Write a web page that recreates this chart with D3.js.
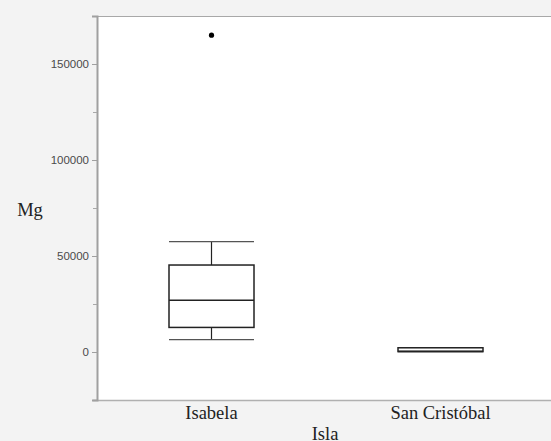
<!DOCTYPE html>
<html>
<head>
<meta charset="utf-8">
<script src="https://cdn.jsdelivr.net/npm/d3@7"></script>
<style>
  body { margin: 0; background: #f3f3f3; }
  svg { display: block; }
</style>
</head>
<body>
<script>
// Box plot of Mg by island

var islands = ["Isabela", "San Cristóbal"];
var whiskerLow = [6400, 200];
var q1 = [12800, 200];
var median = [27000, 400];
var q3 = [45300, 2200];
var whiskerHigh = [57500, 2200];
var outliers = [[165000], []];
var yTicks = [0, 50000, 100000, 150000];
var yMinorTicks = [25000, 75000, 125000];

var width = 551;
var height = 441;
var plotLeft = 97, plotTop = 16, plotRight = 555, plotBottom = 400;

var svg = d3.select("body")
            .append("svg")
            .attr("width", width)
            .attr("height", height);

var y = d3.scaleLinear()
          .domain([-25000, 175000])
          .range([plotBottom, plotTop]);

var x = d3.scaleBand()
          .domain(islands)
          .range([plotLeft, plotRight])
          .padding(0);

// white plot area
svg.append("rect")
   .attr("x", plotLeft)
   .attr("y", plotTop)
   .attr("width", plotRight - plotLeft)
   .attr("height", plotBottom - plotTop)
   .attr("fill", "white");

// frame lines
svg.append("line")
   .attr("x1", plotLeft).attr("x2", width)
   .attr("y1", plotTop + 0.5).attr("y2", plotTop + 0.5)
   .attr("stroke", "#a8a8a8");
svg.append("line")
   .attr("x1", plotLeft - 4).attr("x2", width)
   .attr("y1", plotBottom + 0.5).attr("y2", plotBottom + 0.5)
   .attr("stroke", "#b0b0b0").attr("stroke-width", 1.5);

// y axis
var yAxis = d3.axisLeft(y)
              .tickValues(yTicks)
              .tickSize(5)
              .tickPadding(3)
              .tickFormat(d3.format("d"));

var gy = svg.append("g")
            .attr("transform", "translate(" + plotLeft + ",0)")
            .call(yAxis);
gy.select(".domain").attr("stroke", "#a0a0a0").attr("stroke-width", 2);
gy.selectAll(".tick line").attr("stroke", "#a0a0a0");
gy.selectAll(".tick text")
  .attr("fill", "#4a4a4a")
  .style("font-family", "'Liberation Sans', Arial, sans-serif")
  .style("font-size", "11.5px");

svg.append("g")
   .selectAll("line")
   .data(yMinorTicks)
   .enter()
   .append("line")
   .attr("x1", plotLeft - 4).attr("x2", plotLeft)
   .attr("y1", function(d) { return Math.round(y(d)) + 0.5; })
   .attr("y2", function(d) { return Math.round(y(d)) + 0.5; })
   .attr("stroke", "#a8a8a8");

// x category labels
svg.append("g")
   .selectAll("text")
   .data(islands)
   .enter()
   .append("text")
   .attr("x", function(d) { return x(d) + x.bandwidth() / 2; })
   .attr("y", 419)
   .attr("text-anchor", "middle")
   .attr("fill", "#222")
   .style("font-family", "'Liberation Serif', serif")
   .style("font-size", "18.5px")
   .text(function(d) { return d; });

// axis titles
svg.append("text")
   .attr("x", 30).attr("y", 216)
   .attr("text-anchor", "middle")
   .attr("fill", "#222")
   .style("font-family", "'Liberation Serif', serif")
   .style("font-size", "18.5px")
   .text("Mg");

svg.append("text")
   .attr("x", 325).attr("y", 440)
   .attr("text-anchor", "middle")
   .attr("fill", "#222")
   .style("font-family", "'Liberation Serif', serif")
   .style("font-size", "18.5px")
   .text("Isla");

// boxes
var boxW = 85;
var boxes = svg.selectAll(".box")
               .data(islands)
               .enter()
               .append("g")
               .attr("class", "box");

function cx(i) { return x(islands[i]) + x.bandwidth() / 2; }

boxes.append("line") // whisker
     .attr("x1", function(d, i) { return cx(i); })
     .attr("x2", function(d, i) { return cx(i); })
     .attr("y1", function(d, i) { return y(whiskerLow[i]); })
     .attr("y2", function(d, i) { return y(whiskerHigh[i]); })
     .attr("stroke", "#222").attr("stroke-width", 1.2);

boxes.selectAll(".cap")
     .data(function(d, i) { return [[i, whiskerLow[i]], [i, whiskerHigh[i]]]; })
     .enter()
     .append("line")
     .attr("x1", function(d) { return cx(d[0]) - boxW / 2; })
     .attr("x2", function(d) { return cx(d[0]) + boxW / 2; })
     .attr("y1", function(d) { return y(d[1]); })
     .attr("y2", function(d) { return y(d[1]); })
     .attr("stroke", "#555").attr("stroke-width", 1.3);

boxes.append("rect")
     .attr("x", function(d, i) { return cx(i) - boxW / 2; })
     .attr("y", function(d, i) { return y(q3[i]); })
     .attr("width", boxW)
     .attr("height", function(d, i) { return y(q1[i]) - y(q3[i]); })
     .attr("fill", "white")
     .attr("stroke", "#222").attr("stroke-width", 1.5);

boxes.append("line") // median
     .attr("x1", function(d, i) { return cx(i) - boxW / 2; })
     .attr("x2", function(d, i) { return cx(i) + boxW / 2; })
     .attr("y1", function(d, i) { return y(median[i]); })
     .attr("y2", function(d, i) { return y(median[i]); })
     .attr("stroke", "#222").attr("stroke-width", 1.5);

boxes.selectAll("circle")
     .data(function(d, i) { return outliers[i].map(function(v) { return [i, v]; }); })
     .enter()
     .append("circle")
     .attr("cx", function(d) { return cx(d[0]); })
     .attr("cy", function(d) { return y(d[1]); })
     .attr("r", 2.6)
     .attr("fill", "black");
</script>
</body>
</html>
